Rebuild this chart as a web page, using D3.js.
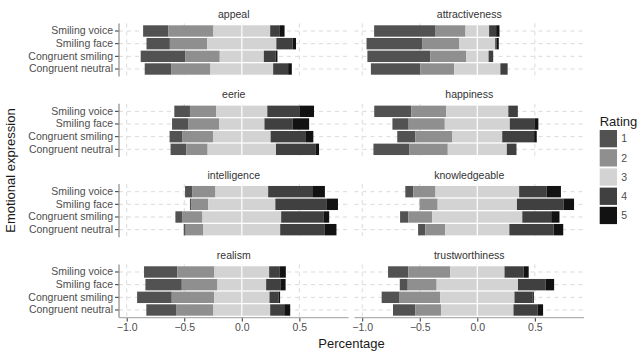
<!DOCTYPE html>
<html>
<head>
<meta charset="utf-8">
<script src="https://cdn.jsdelivr.net/npm/d3@7"></script>
<style>
  body { margin: 0; background: #fff; }
  svg text { font-family: "Liberation Sans", Arial, sans-serif; }
</style>
</head>
<body>
<svg id="chart" width="637" height="351"></svg>
<script>
// facet panels, in reading order (2 columns)
const facets = ["appeal", "attractiveness", "eerie", "happiness",
  "intelligence", "knowledgeable", "realism", "trustworthiness"];
const expressions = ["Smiling voice", "Smiling face", "Congruent smiling", "Congruent neutral"];
const ratings = ["1", "2", "3", "4", "5"];
const ratingColors = ["#525252", "#8f8f8f", "#d3d3d3", "#404040", "#121212"];
const xTicks = [-1.0, -0.5, 0.0, 0.5];

// share of answers per rating 1..5, one row per expression
const appeal =          [[0.220, 0.391, 0.493, 0.084, 0.041], [0.203, 0.325, 0.600, 0.142, 0.029],
                         [0.386, 0.301, 0.383, 0.101, 0.017], [0.229, 0.342, 0.545, 0.130, 0.032]];
const attractiveness =  [[0.534, 0.260, 0.205, 0.061, 0.029], [0.487, 0.320, 0.311, 0.014, 0.017],
                         [0.548, 0.309, 0.196, 0.040, 0.000], [0.430, 0.294, 0.401, 0.063, 0.000]];
const eerie =           [[0.136, 0.229, 0.443, 0.278, 0.128], [0.139, 0.270, 0.394, 0.246, 0.142],
                         [0.113, 0.264, 0.501, 0.301, 0.070], [0.136, 0.186, 0.594, 0.342, 0.032]];
const happiness =       [[0.323, 0.303, 0.539, 0.081, 0.003], [0.141, 0.314, 0.565, 0.213, 0.035],
                         [0.156, 0.323, 0.433, 0.277, 0.023], [0.314, 0.332, 0.513, 0.084, 0.000]];
const intelligence =    [[0.061, 0.203, 0.458, 0.383, 0.110], [0.014, 0.145, 0.583, 0.443, 0.101],
                         [0.058, 0.177, 0.684, 0.371, 0.046], [0.017, 0.154, 0.667, 0.388, 0.101]];
const knowledgeable =   [[0.069, 0.193, 0.727, 0.239, 0.124], [0.003, 0.153, 0.689, 0.404, 0.092],
                         [0.072, 0.208, 0.782, 0.251, 0.072], [0.063, 0.173, 0.557, 0.384, 0.084]];
const realism =         [[0.290, 0.322, 0.475, 0.093, 0.052], [0.316, 0.310, 0.423, 0.128, 0.041],
                         [0.301, 0.368, 0.481, 0.078, 0.014], [0.258, 0.325, 0.493, 0.122, 0.052]];
const trustworthiness = [[0.176, 0.363, 0.473, 0.167, 0.043], [0.069, 0.251, 0.707, 0.239, 0.075],
                         [0.156, 0.352, 0.646, 0.159, 0.009], [0.193, 0.225, 0.629, 0.208, 0.049]];

const values = { appeal, attractiveness, eerie, happiness, intelligence, knowledgeable, realism, trustworthiness };

const colX = [119, 354.5];
const panelW = 229.5;
const rowY0 = 23.4, rowStep = 80.33, panelH = 53.2;

const svg = d3.select("#chart");

const x = d3.scaleLinear().domain([-1.067, 0.927]).range([0, panelW]);
const y = d3.scaleBand().domain(expressions).range([0, panelH])
  .paddingInner(0.1).paddingOuter(0.15);
const color = d3.scaleOrdinal().domain(ratings).range(ratingColors);

// turn a row of shares into diverging segments, neutral split around 0
function segments(row) {
  const half = row[2] / 2;
  return [
    { r: "1", x0: -(half + row[1] + row[0]), x1: -(half + row[1]) },
    { r: "2", x0: -(half + row[1]), x1: -half },
    { r: "3", x0: -half, x1: half },
    { r: "4", x0: half, x1: half + row[3] },
    { r: "5", x0: half + row[3], x1: half + row[3] + row[4] }
  ].filter(s => s.x1 - s.x0 > 0);
}

facets.forEach((name, i) => {
  const col = i % 2, row = Math.floor(i / 2);
  const g = svg.append("g")
    .attr("transform", `translate(${colX[col]},${rowY0 + row * rowStep})`);

  // strip title
  g.append("text")
    .attr("x", panelW / 2).attr("y", -5.5)
    .attr("text-anchor", "middle")
    .style("font-size", "10.5px").style("fill", "#333")
    .text(name);

  // dashed grid
  g.selectAll(".vgrid").data(xTicks).enter().append("line")
    .attr("x1", d => x(d)).attr("x2", d => x(d))
    .attr("y1", 0).attr("y2", panelH)
    .style("stroke", "#d6d6d6").style("stroke-width", 0.9)
    .style("stroke-dasharray", "4,4");
  g.selectAll(".hgrid").data(expressions).enter().append("line")
    .attr("x1", 0).attr("x2", panelW)
    .attr("y1", d => y(d) + y.bandwidth() / 2).attr("y2", d => y(d) + y.bandwidth() / 2)
    .style("stroke", "#d6d6d6").style("stroke-width", 0.9)
    .style("stroke-dasharray", "4,4");

  // bars
  values[name].forEach((rowVals, j) => {
    g.selectAll(null).data(segments(rowVals)).enter().append("rect")
      .attr("x", d => x(d.x0))
      .attr("width", d => x(d.x1) - x(d.x0))
      .attr("y", y(expressions[j]))
      .attr("height", y.bandwidth())
      .style("fill", d => color(d.r));
  });

  // white zero line through the neutral block
  g.append("line")
    .attr("x1", x(0)).attr("x2", x(0))
    .attr("y1", 0).attr("y2", panelH)
    .style("stroke", "#fff").style("stroke-width", 1.2);

  // y axis on left column only
  if (col === 0) {
    const yAxis = g.append("g").call(d3.axisLeft(y).tickSize(4).tickPadding(2));
    yAxis.select(".domain").remove();
    yAxis.selectAll(".tick line").style("stroke", "#333");
    yAxis.selectAll(".tick text")
      .style("font-size", "10.5px").style("fill", "#4d4d4d");
    g.append("line")
      .attr("x1", 0).attr("x2", 0).attr("y1", 0).attr("y2", panelH)
      .style("stroke", "#8a8a8a").style("stroke-width", 1.2);
  }

  // x axis on bottom row only
  if (row === 3) {
    const xAxis = g.append("g")
      .attr("transform", `translate(0,${panelH})`)
      .call(d3.axisBottom(x).tickValues(xTicks).tickFormat(d3.format(".1f")).tickSize(4).tickPadding(2));
    xAxis.select(".domain").remove();
    xAxis.selectAll(".tick line").style("stroke", "#333");
    xAxis.selectAll(".tick text")
      .style("font-size", "10.5px").style("fill", "#4d4d4d");
    g.append("line")
      .attr("x1", 0).attr("x2", panelW).attr("y1", panelH).attr("y2", panelH)
      .style("stroke", "#b0b0b0").style("stroke-width", 1.2);
  }
});

// axis titles
svg.append("text")
  .attr("x", colX[0] + (colX[1] + panelW - colX[0]) / 2).attr("y", 347.5)
  .attr("text-anchor", "middle")
  .style("font-size", "13px").style("fill", "#1a1a1a")
  .text("Percentage");

svg.append("text")
  .attr("transform", `translate(14.5,${rowY0 + (3 * rowStep + panelH) / 2}) rotate(-90)`)
  .attr("text-anchor", "middle")
  .style("font-size", "13px").style("fill", "#1a1a1a")
  .text("Emotional expression");

// legend
const legend = svg.append("g").attr("transform", "translate(599.7,130)");
legend.append("text")
  .attr("x", 0).attr("y", -4)
  .style("font-size", "13px").style("fill", "#1a1a1a")
  .text("Rating");
ratings.forEach((r, i) => {
  legend.append("rect")
    .attr("x", 0).attr("y", i * 19.2)
    .attr("width", 17.3).attr("height", 17.3)
    .style("fill", color(r));
  legend.append("text")
    .attr("x", 21.5).attr("y", i * 19.2 + 8.65)
    .attr("dy", "0.35em")
    .style("font-size", "10.5px").style("fill", "#4d4d4d")
    .text(r);
});
</script>
</body>
</html>
